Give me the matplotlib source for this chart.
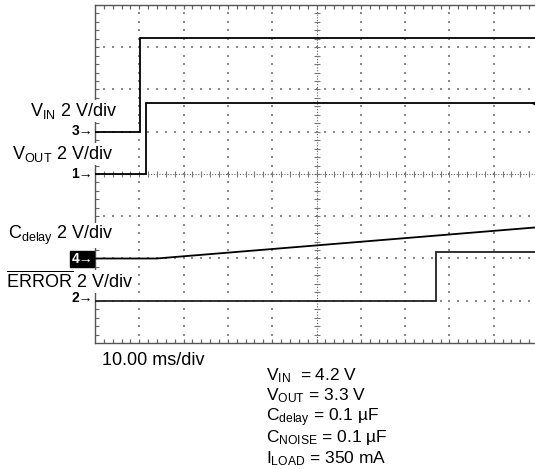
import numpy as np
import matplotlib
matplotlib.use('Agg')
import matplotlib.pyplot as plt

plt.rcParams['font.family'] = ['Liberation Sans', 'DejaVu Sans']
plt.rcParams['mathtext.fontset'] = 'custom'
plt.rcParams['mathtext.rm'] = 'Liberation Sans'
plt.rcParams['mathtext.it'] = 'Liberation Sans:italic'
plt.rcParams['mathtext.bf'] = 'Liberation Sans:bold'

# Scope settings: 10 ms/div, 2 V/div on every channel
ms_per_div = 10.0
v_per_div = 2.0

# channel trace positions on screen (divisions from centre)
ch_offset = {'vin': 1.0, 'vout': 0.0, 'cdelay': -2.0, 'error': -3.0}

# traces (time in ms, voltage in V)
vin_t = [0, 10.2, 10.2, 100]
vin_v = [0, 0, 4.45, 4.45]

vout_t = [0, 11.6, 11.6, 100]
vout_v = [0, 0, 3.35, 3.35]

cdelay_t = [0, 13.9, 100]
cdelay_v = [0, 0, 1.48]

error_t = [0, 77.0, 77.0, 100]
error_v = [0, 0, 2.33, 2.33]

W, H = 535, 469
fig = plt.figure(figsize=(W / 100, H / 100), dpi=100)

# plot box in pixels (screen runs slightly past the right edge)
left, top, right, bottom = 95, 5, 538, 343
ax = fig.add_axes([left / W, 1 - bottom / H, (right - left) / W, (bottom - top) / H])
ax.set_xlim(0, 10)
ax.set_ylim(-4, 4)
ax.set_xticks([])
ax.set_yticks([])
for s in ['top', 'left', 'bottom']:
    ax.spines[s].set_color('#555555')
    ax.spines[s].set_linewidth(1.0)
ax.spines['right'].set_visible(False)

gc = '#8a8a8a'
minor = np.arange(0, 10.01, 0.2)
minor_y = np.arange(-4, 4.01, 0.2)

# dotted graticule
for k in [-3, -2, -1, 1, 2, 3]:
    ax.scatter(minor[1:-1], np.full(len(minor) - 2, k), s=1.2, marker='s', color=gc, lw=0, zorder=1)
for j in [1, 2, 3, 4, 6, 7, 8, 9]:
    ax.scatter(np.full(len(minor_y) - 2, j), minor_y[1:-1], s=1.2, marker='s', color=gc, lw=0, zorder=1)

# centre cross with minor ticks
ax.plot([0, 10], [0, 0], color='#666666', lw=0.8, ls=(0, (1, 1.5)), zorder=1)
ax.plot([5, 5], [-4, 4], color='#666666', lw=0.8, ls=(0, (1, 1.5)), zorder=1)
ax.scatter(minor[1:-1], np.zeros(len(minor) - 2), s=14, marker='|', color='#777777', lw=0.8, zorder=1)
ax.scatter(np.full(len(minor_y) - 2, 5), minor_y[1:-1], s=14, marker='_', color='#777777', lw=0.8, zorder=1)

# border ticks
ax.scatter(minor[1:], np.full(len(minor) - 1, 3.96), s=12, marker='|', color='#666666', lw=0.9, zorder=1)
ax.scatter(minor[1:], np.full(len(minor) - 1, -3.96), s=12, marker='|', color='#666666', lw=0.9, zorder=1)
ax.scatter(np.full(len(minor_y) - 2, 0.04), minor_y[1:-1], s=5, marker='_', color='#666666', lw=0.8, zorder=1)


def trace(t, v, key, color='black'):
    x = np.array(t) / ms_per_div
    y = np.array(v) / v_per_div + ch_offset[key]
    ax.plot(x, y, color=color, lw=1.3, zorder=3, solid_joinstyle='miter')


trace(vin_t, vin_v, 'vin')
trace(vout_t, vout_v, 'vout')
trace(cdelay_t, cdelay_v, 'cdelay')
trace(error_t, error_v, 'error', color='#222222')

# trigger level marker on the right edge
ax.scatter([9.97], [ch_offset['vout'] + 3.35 / v_per_div], marker='<', s=45, color='black',
           zorder=4, clip_on=False)


def ftext(x, y, s, **kw):
    fig.text(x / W, 1 - y / H, s, **kw)


# channel labels sit on a white patch, hiding the left border behind them
fs = 13
lb = dict(fontsize=fs, bbox=dict(boxstyle='square,pad=0.05', fc='white', ec='none'))
ftext(30, 116, r'V$_{\mathrm{IN}}$ 2 V/div', **lb)
ftext(12, 159, r'V$_{\mathrm{OUT}}$ 2 V/div', **lb)
ftext(8, 239, r'C$_{\mathrm{delay}}$ 2 V/div', **lb)
ftext(6, 288, r'$\overline{\mathrm{ERROR}}$ 2 V/div', **lb)

# channel ground markers
mk = dict(fontsize=10, fontweight='bold', va='center', ha='right')
ftext(93, 131, '3\u2192', **mk)
ftext(93, 174, '1\u2192', **mk)
ftext(93, 298, '2\u2192', **mk)
ftext(93, 259, '4\u2192', color='white',
      bbox=dict(boxstyle='square,pad=0.08', fc='black', ec='black'), **mk)

ftext(102, 365, '10.00 ms/div', fontsize=13)

pfs = 12.5
params = [r'V$_{\mathrm{IN}}$  = 4.2 V',
          r'V$_{\mathrm{OUT}}$ = 3.3 V',
          r'C$_{\mathrm{delay}}$ = 0.1 µF',
          r'C$_{\mathrm{NOISE}}$ = 0.1 µF',
          r'I$_{\mathrm{LOAD}}$ = 350 mA']
for i, p in enumerate(params):
    ftext(266, 380 + i * 20.7, p, fontsize=pfs)

fig.savefig('out.png', dpi=100)
